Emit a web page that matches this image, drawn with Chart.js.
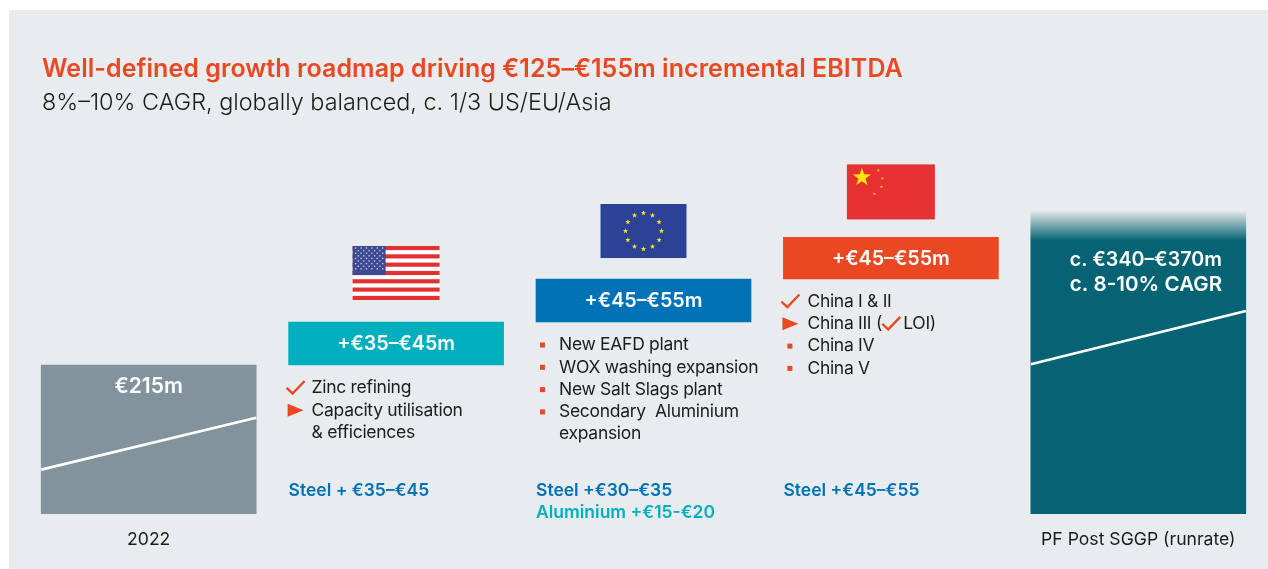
<!DOCTYPE html>
<html>
<head>
<meta charset="utf-8">
<title>Growth roadmap</title>
<script src="https://cdn.jsdelivr.net/npm/chart.js@4"></script>
<style>
    html, body { margin: 0; padding: 0; background: #fff; overflow: hidden; }
    #panel { position: absolute; left: 9px; top: 10px; width: 1259px; height: 559px; background: #e8ecef; }
    #grafico { position: absolute; left: 0; top: 0; }
</style>
</head>
<body>
<div id="panel"></div>
<canvas id="grafico" width="1268" height="569"></canvas>
<script>
const titulo = 'Well-defined growth roadmap driving €125–€155m incremental EBITDA'
const subtitulo = '8%–10% CAGR, globally balanced, c. 1/3 US/EU/Asia'

// the bars are schematic, these are the extents as drawn and not the euro amounts
const categories = ['2022', '', '', '', 'PF Post SGGP (runrate)']
const barBases = [0, 215, 277, 339, 0]
const barTops = [215, 277, 339, 399, 436]
const barColors = ['#82939e', '#00afbd', '#0072b5', '#e94823', '#056373']
const barLabels = ['€215m', '+€35–€45m', '+€45–€55m', '+€45–€55m', '']
const totalLabels = ['c. €340–€370m', 'c. 8-10% CAGR']

// white slanted lines on the first and last bars
const lineStarts = [64, null, null, null, 216]
const lineEnds = [139, null, null, null, 293]

const usItems = ['Zinc refining', 'Capacity utilisation', '& efficiences']
const usMarks = ['check', 'arrow', '']
const euItems = ['New EAFD plant', 'WOX washing expansion', 'New Salt Slags plant', 'Secondary  Aluminium', 'expansion']
const euMarks = ['square', 'square', 'square', 'square', '']
const chinaItems = ['China I & II', 'China III (|LOI)', 'China IV', 'China V']
const chinaMarks = ['check', 'arrow', 'square', 'square']

const steelLabels = ['Steel + €35–€45', 'Steel +€30–€35', 'Steel +€45–€55']
const aluminiumLabel = 'Aluminium +€15-€20'

const naranja = '#e94823'
const azul = '#0072b5'
const turquesa = '#00afbd'
const texto = '#1c1c1c'
const fuente = 'Inter, "Liberation Sans", sans-serif'

function escribir(ctx, txt, x, y, font, color, align, spacing) {
    ctx.font = font
    ctx.fillStyle = color
    ctx.textAlign = align || 'left'
    ctx.textBaseline = 'middle'
    ctx.letterSpacing = spacing || '0px'
    ctx.fillText(txt, x, y)
    ctx.letterSpacing = '0px'
}

function marcaCheck(ctx, x, y) {
    ctx.strokeStyle = naranja
    ctx.lineWidth = 2.4
    ctx.beginPath()
    ctx.moveTo(x, y)
    ctx.lineTo(x + 6, y + 5.5)
    ctx.lineTo(x + 18, y - 7)
    ctx.stroke()
}

function marca(ctx, tipo, x, y) {
    ctx.fillStyle = naranja
    if (tipo === 'check') {
        marcaCheck(ctx, x - 2, y)
    } else if (tipo === 'arrow') {
        ctx.beginPath()
        ctx.moveTo(x - 1, y - 6.5)
        ctx.lineTo(x + 15, y)
        ctx.lineTo(x - 1, y + 6.5)
        ctx.fill()
    } else if (tipo === 'square') {
        ctx.fillRect(x + 4, y - 2.5, 5, 5)
    }
}

function lista(ctx, items, marcas, left, textX, firstY) {
    let font = '400 17.5px ' + fuente
    for (let i = 0; i < items.length; i++) {
        let y = firstY + i * 22.3
        marca(ctx, marcas[i], left, y)
        let partes = items[i].split('|')
        escribir(ctx, partes[0], textX, y, font, texto, 'left', '-0.3px')
        if (partes.length > 1) {
            let ancho = ctx.measureText(partes[0]).width
            marcaCheck(ctx, textX + ancho - 3, y)
            escribir(ctx, partes[1], textX + ancho + 18, y, font, texto, 'left', '-0.3px')
        }
    }
}

function estrella(ctx, cx, cy, r, color) {
    ctx.fillStyle = color
    ctx.beginPath()
    for (let i = 0; i < 10; i++) {
        let rad = i % 2 === 0 ? r : r * 0.4
        let ang = -Math.PI / 2 + i * Math.PI / 5
        ctx.lineTo(cx + rad * Math.cos(ang), cy + rad * Math.sin(ang))
    }
    ctx.closePath()
    ctx.fill()
}

function banderaUS(ctx, cx, bottom) {
    let w = 87, h = 54, x = cx - w / 2, y = bottom - h
    ctx.fillStyle = '#fff'
    ctx.fillRect(x, y, w, h)
    ctx.fillStyle = '#e13132'
    for (let i = 0; i < 13; i += 2) {
        ctx.fillRect(x, y + i * h / 13, w, h / 13)
    }
    ctx.fillStyle = '#3c4a94'
    ctx.fillRect(x, y, 33, 7 * h / 13)
    ctx.fillStyle = '#d5d9ea'
    for (let f = 0; f < 9; f++) {
        let n = f % 2 === 0 ? 6 : 5
        for (let c = 0; c < n; c++) {
            let sx = x + (f % 2 === 0 ? 3 : 5.7) + c * 5.4
            ctx.fillRect(sx - 0.6, y + 2 + f * 2.6 - 0.6, 1.3, 1.3)
        }
    }
}

function banderaEU(ctx, cx, bottom) {
    let w = 86, h = 54, x = cx - w / 2, y = bottom - h
    ctx.fillStyle = '#2c4296'
    ctx.fillRect(x, y, w, h)
    for (let i = 0; i < 12; i++) {
        let ang = i * Math.PI / 6
        estrella(ctx, cx + 18 * Math.sin(ang), y + 27 - 18 * Math.cos(ang), 2.8, '#f6e629')
    }
}

function banderaChina(ctx, cx, bottom) {
    let w = 88, h = 55, x = cx - w / 2, y = bottom - h
    ctx.fillStyle = '#e63031'
    ctx.fillRect(x, y, w, h)
    estrella(ctx, x + 15, y + 13, 9.5, '#fbe30d')
    estrella(ctx, x + 31.5, y + 6, 1.7, '#f3c11a')
    estrella(ctx, x + 35.5, y + 14, 1.7, '#f3c11a')
    estrella(ctx, x + 34.5, y + 22.5, 1.7, '#f3c11a')
    estrella(ctx, x + 27.5, y + 29.5, 1.7, '#f3c11a')
}

const decoracion = {
    id: 'decoracion',
    afterDatasetsDraw(chart) {
        let ctx = chart.ctx
        let yScale = chart.scales.y
        let bars = chart.getDatasetMeta(0).data
        let izq = bars.map(b => b.x - b.width / 2)
        let der = bars.map(b => b.x + b.width / 2)
        ctx.save()

        escribir(ctx, titulo, 42, 69, '600 25px ' + fuente, naranja, 'left', '0.06px')
        escribir(ctx, subtitulo, 42, 103, '300 23.4px ' + fuente, texto)

        // slanted lines, through the value scale
        ctx.strokeStyle = '#fff'
        ctx.lineWidth = 2.6
        for (let i = 0; i < bars.length; i++) {
            if (lineStarts[i] === null) continue
            ctx.beginPath()
            ctx.moveTo(izq[i], yScale.getPixelForValue(lineStarts[i]))
            ctx.lineTo(der[i], yScale.getPixelForValue(lineEnds[i]))
            ctx.stroke()
        }

        // labels inside the bars
        let negrita = '600 19.7px ' + fuente
        escribir(ctx, barLabels[0], bars[0].x, bars[0].y + 22, '600 21px ' + fuente, '#fff', 'center')
        for (let i = 1; i < 4; i++) {
            escribir(ctx, barLabels[i], bars[i].x, (bars[i].y + bars[i].base) / 2 + 1, negrita, '#fff', 'center')
        }
        escribir(ctx, totalLabels[0], izq[4] + 39, bars[4].y + 48, negrita, '#fff')
        escribir(ctx, totalLabels[1], izq[4] + 39, bars[4].y + 73, '600 20.6px ' + fuente, '#fff')

        banderaUS(ctx, bars[1].x, bars[1].y - 22)
        banderaEU(ctx, bars[2].x, bars[2].y - 21)
        banderaChina(ctx, bars[3].x, bars[3].y - 18)

        lista(ctx, usItems, usMarks, izq[1], izq[1] + 23, bars[1].base + 23)
        lista(ctx, euItems, euMarks, izq[2], izq[2] + 23, bars[2].base + 23)
        lista(ctx, chinaItems, chinaMarks, izq[3], izq[3] + 24, bars[3].base + 22.5)

        let azulFont = '600 17.5px ' + fuente
        let filaAcero = yScale.getPixelForValue(0) - 23.5
        escribir(ctx, steelLabels[0], izq[1], filaAcero, azulFont, azul)
        escribir(ctx, steelLabels[1], izq[2], filaAcero, azulFont, azul)
        escribir(ctx, steelLabels[2], izq[3], filaAcero, azulFont, azul)
        escribir(ctx, aluminiumLabel, izq[2], filaAcero + 22, azulFont, turquesa)
        ctx.restore()
    }
}

function colorBarra(context) {
    let i = context.dataIndex
    let area = context.chart.chartArea
    if (i !== 4 || !area) return barColors[i]
    let bar = context.chart.scales.y
    let top = bar.getPixelForValue(barTops[4])
    let g = context.chart.ctx.createLinearGradient(0, top, 0, top + 29)
    g.addColorStop(0, '#dde5e8')
    g.addColorStop(1, barColors[4])
    return g
}

let grafico = new Chart(document.getElementById('grafico'), {
    type: 'bar',
    data: {
        labels: categories,
        datasets: [{
            data: barBases.map((b, i) => [b, barTops[i]]),
            backgroundColor: colorBarra,
            borderWidth: 0,
            barThickness: 215,
            borderSkipped: false
        }]
    },
    options: {
        responsive: false,
        animation: false,
        layout: { padding: { left: 25, right: 6, top: 209, bottom: 0 } },
        plugins: { legend: { display: false }, tooltip: { enabled: false }, title: { display: false } },
        scales: {
            x: {
                border: { display: false },
                grid: { display: false, drawTicks: false },
                afterFit: scale => { scale.height = 55 },
                ticks: {
                    autoSkip: false,
                    maxRotation: 0,
                    padding: 15,
                    color: texto,
                    font: { family: fuente, size: 17.6, weight: '400' }
                }
            },
            y: { display: false, min: 0, max: 440 }
        }
    },
    plugins: [decoracion]
})
</script>
</body>
</html>
